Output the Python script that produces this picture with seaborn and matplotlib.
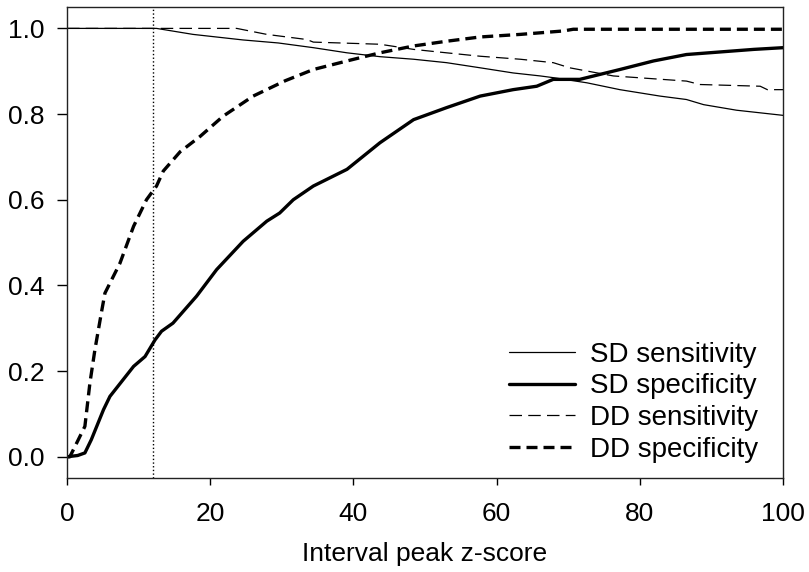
import numpy as np
import pandas as pd
import matplotlib
matplotlib.use('Agg')
import matplotlib.pyplot as plt
import seaborn as sns

# values
sd_sens_x = [0, 12.5, 17.6, 24.6, 29.5, 34.4, 39.1, 43.7, 48.4, 53.0, 57.7, 62.3, 66.1,
             67.9, 72.6, 77.2, 82.8, 86.5, 88.9, 93.5, 100]
sd_sens_y = [1.0, 1.0, 0.986, 0.973, 0.966, 0.955, 0.943, 0.934, 0.928, 0.920, 0.908, 0.896, 0.889,
             0.885, 0.873, 0.857, 0.842, 0.834, 0.822, 0.809, 0.797]

sd_spec_x = [0, 1.5, 2.5, 3.4, 5.1, 6.0, 9.3, 10.9, 12.3, 13.2, 14.8, 18.1, 20.9, 24.6, 27.9,
             29.7, 31.6, 34.4, 39.1, 43.7, 48.4, 53.0, 57.7, 62.3, 65.6, 67.9, 71.6, 77.2,
             81.9, 86.5, 91.2, 95.9, 100]
sd_spec_y = [0.0, 0.003, 0.009, 0.04, 0.11, 0.141, 0.211, 0.234, 0.273, 0.293, 0.312, 0.375,
             0.437, 0.503, 0.55, 0.569, 0.6, 0.632, 0.671, 0.733, 0.787, 0.815, 0.842, 0.857,
             0.865, 0.881, 0.881, 0.904, 0.924, 0.939, 0.945, 0.951, 0.955]

dd_sens_x = [0, 23.7, 27.9, 33.5, 34.4, 43.7, 48.4, 53.0, 57.7, 63.3, 67.9, 70.2, 76.3,
             86.5, 88.4, 96.8, 97.8, 100]
dd_sens_y = [1.0, 1.0, 0.986, 0.974, 0.968, 0.963, 0.951, 0.943, 0.935, 0.928, 0.920, 0.908,
             0.889, 0.877, 0.869, 0.865, 0.857, 0.857]

dd_spec_x = [0, 0.4, 1.35, 2.5, 3.2, 3.9, 4.8, 5.3, 7.4, 9.3, 11.1, 12.5, 13.45, 15.8, 18.6,
             21.8, 26.0, 30.5, 34.4, 39.1, 43.7, 48.4, 53.0, 57.7, 63.3, 69.3, 70.7, 100]
dd_spec_y = [0.0, 0.0, 0.032, 0.071, 0.172, 0.25, 0.336, 0.382, 0.452, 0.538, 0.6, 0.632,
             0.667, 0.712, 0.748, 0.795, 0.842, 0.878, 0.904, 0.924, 0.943, 0.959, 0.970,
             0.980, 0.986, 0.994, 0.998, 0.998]

cutoff = 12
labels = ['SD sensitivity', 'SD specificity', 'DD sensitivity', 'DD specificity']

sns.set_style('white')
plt.rcParams['font.family'] = ['Liberation Sans', 'DejaVu Sans']
plt.rcParams['text.color'] = 'black'
plt.rcParams['xtick.color'] = 'black'
plt.rcParams['ytick.color'] = 'black'
plt.rcParams['axes.labelcolor'] = 'black'

fig = plt.figure(figsize=(8.09, 5.72), dpi=100)
ax = fig.add_axes([0.0828, 0.164, 0.8852, 0.8238])

sns.lineplot(x=sd_sens_x, y=sd_sens_y, ax=ax, color='black', lw=0.9, label=labels[0])
sns.lineplot(x=sd_spec_x, y=sd_spec_y, ax=ax, color='black', lw=2.4, label=labels[1])
sns.lineplot(x=dd_sens_x, y=dd_sens_y, ax=ax, color='black', lw=0.9,
             label=labels[2]).lines[-1].set_dashes([10, 5])
sns.lineplot(x=dd_spec_x, y=dd_spec_y, ax=ax, color='black', lw=2.4,
             label=labels[3]).lines[-1].set_dashes([3.3, 1.8])
ax.axvline(cutoff, color='black', ls=':', lw=1.0)

ax.set_xlim(0, 100)
ax.set_ylim(-0.05, 1.05)
ax.set_xticks(np.arange(0, 101, 20))
ax.set_yticks(np.arange(0, 1.01, 0.2))
ax.yaxis.set_major_formatter(matplotlib.ticker.FormatStrFormatter('%.1f'))
ax.tick_params(axis='x', direction='out', length=5, width=1, pad=12, labelsize=19, bottom=True)
ax.tick_params(axis='y', direction='out', length=7, width=1, pad=9, labelsize=19, left=True)
for s in ax.spines.values():
    s.set_color('#222222')
    s.set_linewidth(1.0)
ax.set_xlabel('Interval peak z-score', fontsize=19, labelpad=12)
ax.set_ylabel('')

ax.legend(loc='lower right', bbox_to_anchor=(0.992, -0.008), frameon=False, fontsize=20,
          handlelength=2.35, handletextpad=0.55, labelspacing=0.2, borderpad=0.2)

fig.savefig('out.png', dpi=100)
